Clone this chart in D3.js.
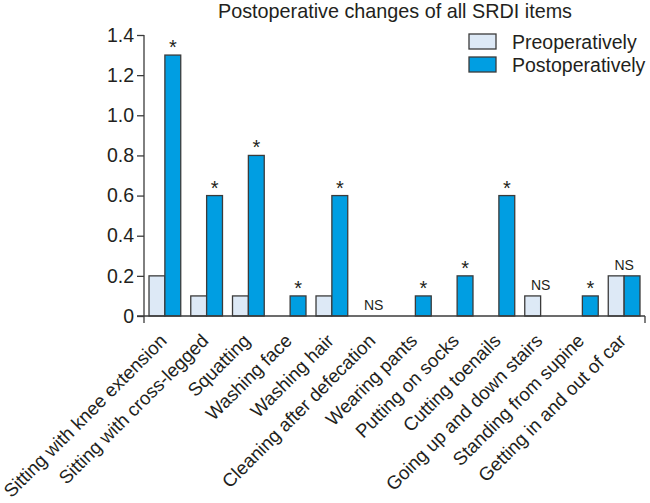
<!DOCTYPE html>
<html>
<head>
<meta charset="utf-8">
<script src="https://cdn.jsdelivr.net/npm/d3@7"></script>
<style>
  body { margin: 0; background: #fff; }
  svg text { font-family: "Liberation Sans", Arial, Helvetica, sans-serif; fill: #231f20; }
</style>
</head>
<body>
<div id="chart"></div>
<script>
// SRDI items, pre vs post op
const items = ["Sitting with knee extension", "Sitting with cross-legged", "Squatting", "Washing face",
  "Washing hair", "Cleaning after defecation", "Wearing pants", "Putting on socks", "Cutting toenails",
  "Going up and down stairs", "Standing from supine", "Getting in and out of car"];
const preValues = [0.2, 0.1, 0.1, 0, 0.1, 0, 0, 0, 0, 0.1, 0, 0.2];
const postValues = [1.3, 0.6, 0.8, 0.1, 0.6, 0, 0.1, 0.2, 0.6, 0, 0.1, 0.2];
const significance = ["*", "*", "*", "*", "*", "NS", "*", "*", "*", "NS", "*", "NS"];
const yTicks = [0, 0.2, 0.4, 0.6, 0.8, 1.0, 1.2, 1.4];
const seriesNames = ["Preoperatively", "Postoperatively"];
const colors = ["#dde9f6", "#009ee2"];

const w = 650, h = 503;
const x_left = 144, x_right = 645, y_bottom = 316, y_top = 35;
const ink = "#3b3b3b";

const svg = d3.select("#chart").append("svg")
  .attr("width", w)
  .attr("height", h);

const xScale = d3.scaleBand()
  .domain(d3.range(items.length))
  .range([x_left, x_right])
  .paddingInner(0.24)
  .paddingOuter(0.12);

const xSub = d3.scaleBand()
  .domain([0, 1])
  .range([0, xScale.bandwidth()]);

const yScale = d3.scaleLinear()
  .domain([0, 1.4])
  .range([y_bottom, y_top]);

// title
svg.append("text")
  .attr("x", 395)
  .attr("y", 18)
  .attr("text-anchor", "middle")
  .style("font-size", "19.8px")
  .text("Postoperative changes of all SRDI items");

// y axis
const yAxis = d3.axisLeft(yScale)
  .tickValues(yTicks)
  .tickSize(7)
  .tickSizeOuter(0)
  .tickPadding(3)
  .tickFormat(d => d === 0 ? "0" : d3.format(".1f")(d));

const gy = svg.append("g")
  .attr("transform", "translate(" + x_left + ",0)")
  .call(yAxis);
gy.select(".domain").remove();
gy.selectAll("line").attr("stroke", ink).attr("stroke-width", 1.3);
gy.selectAll("text").style("font-size", "19.5px").attr("fill", "#231f20");

// axis lines
svg.append("line")
  .attr("x1", x_left).attr("x2", x_left)
  .attr("y1", yScale(1.4)).attr("y2", y_bottom + 7)
  .attr("stroke", ink).attr("stroke-width", 1.3);

// bars
const groups = svg.selectAll("g.item")
  .data(items)
  .enter().append("g")
  .attr("class", "item")
  .attr("transform", (d, i) => "translate(" + xScale(i) + ",0)");

[preValues, postValues].forEach(function(vals, s) {
  groups.filter((d, i) => vals[i] > 0)
    .append("rect")
    .attr("x", xSub(s))
    .attr("width", xSub.bandwidth())
    .attr("y", d => yScale(vals[items.indexOf(d)]))
    .attr("height", d => y_bottom - yScale(vals[items.indexOf(d)]))
    .attr("fill", colors[s])
    .attr("stroke", ink)
    .attr("stroke-width", 1.3);
});

// x axis line drawn over the bar bottoms
svg.append("line")
  .attr("x1", x_left - 7).attr("x2", x_right)
  .attr("y1", y_bottom).attr("y2", y_bottom)
  .attr("stroke", ink).attr("stroke-width", 1.3);
svg.append("line")
  .attr("x1", x_right).attr("x2", x_right)
  .attr("y1", y_bottom).attr("y2", y_bottom + 7)
  .attr("stroke", ink).attr("stroke-width", 1.3);

// significance marks
groups.append("text")
  .attr("text-anchor", "middle")
  .attr("x", (d, i) => significance[i] === "*" ? xSub(1) + xSub.bandwidth() / 2 : xScale.bandwidth() / 2)
  .attr("y", (d, i) => {
    const top = yScale(Math.max(preValues[i], postValues[i]));
    return significance[i] === "*" ? top - 1 : top - 6;
  })
  .style("font-size", (d, i) => significance[i] === "*" ? "20px" : "14px")
  .text((d, i) => significance[i]);

// rotated category labels
groups.append("text")
  .attr("text-anchor", "end")
  .attr("transform", "translate(" + (xScale.bandwidth() / 2 + 3) + "," + (y_bottom + 26) + ") rotate(-45)")
  .style("font-size", "18.7px")
  .text(d => d);

// legend
const legend = svg.append("g").attr("transform", "translate(469,34)");
seriesNames.forEach(function(name, s) {
  legend.append("rect")
    .attr("x", 0).attr("y", s * 23)
    .attr("width", 27).attr("height", 15)
    .attr("fill", colors[s])
    .attr("stroke", ink)
    .attr("stroke-width", 1.3);
  legend.append("text")
    .attr("x", 43).attr("y", s * 23 + 15)
    .style("font-size", "19.5px")
    .text(name);
});
</script>
</body>
</html>
